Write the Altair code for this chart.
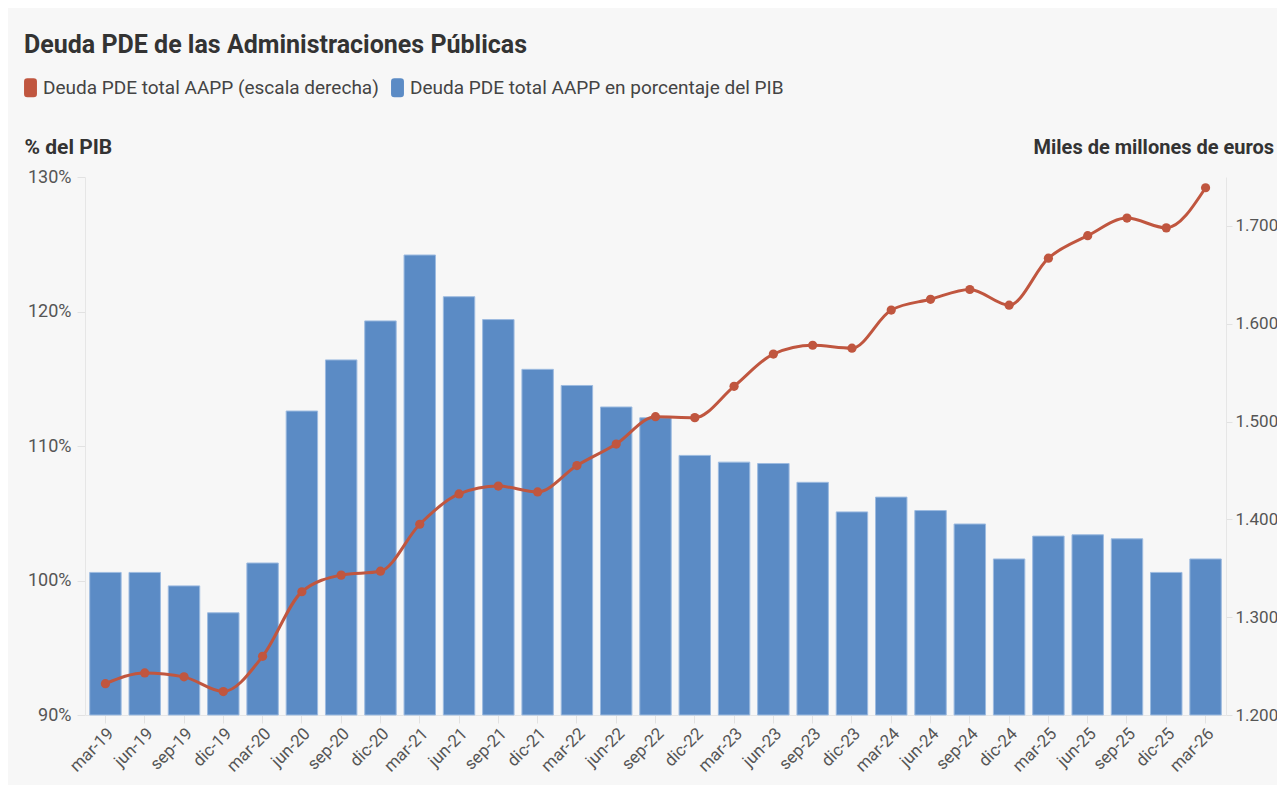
import altair as alt
import pandas as pd

fechas = ["mar-19", "jun-19", "sep-19", "dic-19", "mar-20", "jun-20", "sep-20", "dic-20",
          "mar-21", "jun-21", "sep-21", "dic-21", "mar-22", "jun-22", "sep-22", "dic-22",
          "mar-23", "jun-23", "sep-23", "dic-23", "mar-24", "jun-24", "sep-24", "dic-24",
          "mar-25", "jun-25", "sep-25", "dic-25", "mar-26"]

pct_pib = [100.6, 100.6, 99.6, 97.6, 101.3, 112.6, 116.4, 119.3, 124.2, 121.1, 119.4, 115.7,
           114.5, 112.9, 112.1, 109.3, 108.8, 108.7, 107.3, 105.1, 106.2, 105.2, 104.2, 101.6,
           103.3, 103.4, 103.1, 100.6, 101.6]

deuda_meur = [1232, 1243, 1239, 1224, 1260, 1326, 1343, 1347, 1395, 1426, 1434, 1428,
              1455, 1477, 1505, 1504, 1536, 1569, 1578, 1575, 1614, 1625, 1635, 1619,
              1667, 1690, 1708, 1698, 1739]

serie_linea = "Deuda PDE total AAPP (escala derecha)"
serie_barras = "Deuda PDE total AAPP en porcentaje del PIB"

ROJO = "#c0563f"
AZUL = "#5b8bc5"
FONT = "Roboto"

df = pd.DataFrame({"fecha": fechas, "pct": pct_pib, "deuda": deuda_meur,
                   "serie": [serie_barras] * len(fechas)})

x_enc = alt.X(
    "fecha:N", sort=fechas, title=None,
    scale=alt.Scale(paddingInner=0.2, paddingOuter=0.12),
    axis=alt.Axis(labelAngle=-45, labelAlign="right", labelBaseline="top",
                  labelFontSize=17, labelColor="#555", labelFont=FONT,
                  tickColor="#e2e2e2", tickSize=8, domainColor="#e6e6e6",
                  labelPadding=2, grid=False, labelLimit=0),
)

rect_path = ("M-0.68,-0.65 Q-0.68,-1 -0.33,-1 L0.33,-1 Q0.68,-1 0.68,-0.65 "
             "L0.68,0.65 Q0.68,1 0.33,1 L-0.33,1 Q-0.68,1 -0.68,0.65 Z")

barras = alt.Chart(df).mark_bar(stroke="#9dbbe0", strokeWidth=1).encode(
    x=x_enc,
    y=alt.Y("pct:Q",
            scale=alt.Scale(domain=[90, 130], nice=False, zero=False),
            axis=alt.Axis(values=[90, 100, 110, 120, 130], labelExpr="datum.value + '%'",
                          title="% del PIB", titleAngle=0, titleAlign="left",
                          titleBaseline="middle", titleX=-61, titleY=-30,
                          titleFontSize=21, titleFont=FONT, titleFontWeight="bold",
                          titleColor="#333", labelFontSize=18, labelColor="#555",
                          labelFont=FONT, tickColor="#e2e2e2", tickSize=8,
                          domainColor="#e6e6e6", grid=False, labelPadding=6)),
    y2=alt.datum(90),
    color=alt.Color("serie:N",
                    scale=alt.Scale(domain=[serie_linea, serie_barras], range=[ROJO, AZUL]),
                    legend=alt.Legend(title=None, orient="none", direction="horizontal",
                                      legendX=-64, legendY=-99, symbolType=rect_path,
                                      symbolSize=361, symbolStrokeWidth=0,
                                      labelFontSize=19, labelFont=FONT, labelColor="#444",
                                      labelOffset=3, columnPadding=9, padding=0,
                                      labelLimit=0)),
)

linea = alt.Chart(df).mark_line(
    color=ROJO, strokeWidth=3, interpolate="monotone",
    point=alt.OverlayMarkDef(color=ROJO, filled=True, size=85, opacity=1),
).encode(
    x=x_enc,
    y=alt.Y("deuda:Q",
            scale=alt.Scale(domain=[1200, 1750], nice=False, zero=False),
            axis=alt.Axis(orient="right", values=[1200, 1300, 1400, 1500, 1600, 1700],
                          labelExpr="replace(format(datum.value, ','), ',', '.')",
                          title="Miles de millones de euros", titleAngle=0,
                          titleAlign="left", titleBaseline="middle",
                          titleX=-193, titleY=-30, titleFontSize=20, titleFont=FONT,
                          titleFontWeight="bold", titleColor="#333",
                          labelFontSize=17, labelColor="#555", labelFont=FONT,
                          tickColor="#e2e2e2", tickSize=6, domainColor="#e6e6e6",
                          grid=False, labelPadding=3)),
)

chart = alt.layer(barras, linea).resolve_scale(y="independent").properties(
    width=1141, height=538,
    title=alt.TitleParams("Deuda PDE de las Administraciones Públicas", anchor="start",
                          frame="group", dx=-61, dy=-20, fontSize=25, font=FONT,
                          fontWeight="bold", color="#333", offset=0),
    background="#f7f7f7",
    padding={"left": 77, "top": 169, "right": 51, "bottom": 70},
    autosize=alt.AutoSizeParams(type="none"),
).configure_view(stroke=None)

chart.save("out.html", embed_options={"renderer": "svg", "actions": False})
